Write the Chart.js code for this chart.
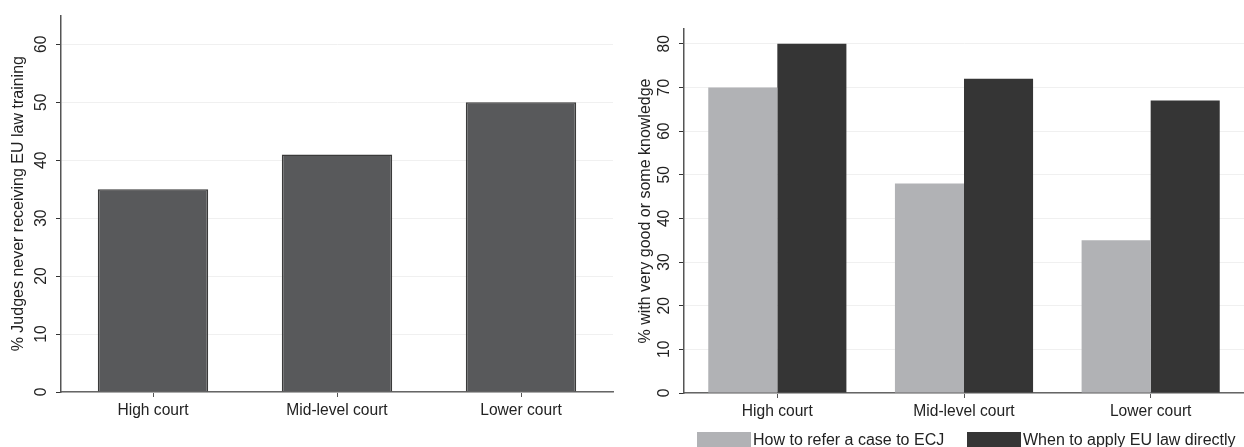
<!DOCTYPE html>
<html>
<head>
<meta charset="utf-8">
<script src="https://cdn.jsdelivr.net/npm/chart.js@4"></script>
<style>
    body { margin: 0; background: #fff; }
    #wrap { position: relative; width: 1244px; height: 447px; overflow: hidden; }
    #left { position: absolute; left: 0; top: 0; }
    #right { position: absolute; left: 622px; top: 0; }
    #legend { position: absolute; top: 431px; left: 0; font: 16px "Liberation Sans", Arial, sans-serif; color: #222; }
    .item { position: absolute; top: 0; white-space: nowrap; line-height: 18px; }
    .box { display: inline-block; width: 54px; height: 15px; vertical-align: -2px; margin-right: 2px; }
</style>
</head>
<body>
<div id="wrap">
    <canvas id="left" width="622" height="447"></canvas>
    <canvas id="right" width="622" height="447"></canvas>
    <div id="legend"></div>
</div>
<script>
const categories = ["High court", "Mid-level court", "Lower court"];
const noTraining = [35, 41, 50];
const referCase = [70, 48, 35];
const applyDirectly = [80, 72, 67];
const leftTicks = [0, 10, 20, 30, 40, 50, 60];
const rightTicks = [0, 10, 20, 30, 40, 50, 60, 70, 80];

const seriesNames = ["How to refer a case to ECJ", "When to apply EU law directly"];
const seriesColors = ["#b1b2b5", "#353535"];

Chart.defaults.font.family = '"Liberation Sans", Arial, sans-serif';
Chart.defaults.font.size = 15.6;
Chart.defaults.color = "#222";
Chart.defaults.animation = false;

// y axis shared bits (Stata-like: vertical numbers, light grid)
function yAxis(max, ticks, title, width, titlePad) {
    return {
        min: 0,
        max: max,
        afterFit: s => { s.width = width; },
        afterBuildTicks: s => { s.ticks = ticks.map(v => ({ value: v })); },
        ticks: { minRotation: 90, maxRotation: 90, crossAlign: "center", padding: 6, color: "#222" },
        grid: { color: "#f0f0f0", tickColor: "#333", tickLength: 5 },
        border: { color: "#555", width: 1.5 },
        title: { display: true, text: title, color: "#222", font: { size: 16 }, padding: { top: titlePad, bottom: 0 } }
    };
}

function xAxis(height) {
    return {
        afterFit: s => { s.height = height; },
        ticks: { padding: 4, color: "#222" },
        grid: { drawOnChartArea: false, offset: false, tickColor: "#555", tickLength: 5 },
        border: { color: "#666", width: 1.5 }
    };
}

// Left chart
new Chart(document.getElementById("left").getContext("2d"), {
    type: "bar",
    data: {
        labels: categories,
        datasets: [{
            data: noTraining,
            backgroundColor: "#58595b",
            borderColor: "#3a3a3a",
            borderWidth: 1.5,
            barPercentage: 0.6,
            categoryPercentage: 1
        }]
    },
    options: {
        responsive: false,
        layout: { padding: { top: 15, right: 9, left: 0, bottom: 0 } },
        plugins: { legend: { display: false }, tooltip: { enabled: false } },
        scales: {
            x: xAxis(55),
            y: yAxis(65, leftTicks, "% Judges never receiving EU law training", 61, 9)
        }
    }
});

// Right chart
new Chart(document.getElementById("right").getContext("2d"), {
    type: "bar",
    data: {
        labels: categories,
        datasets: [
            { label: seriesNames[0], data: referCase, backgroundColor: seriesColors[0], barPercentage: 1, categoryPercentage: 0.74 },
            { label: seriesNames[1], data: applyDirectly, backgroundColor: seriesColors[1], barPercentage: 1, categoryPercentage: 0.74 }
        ]
    },
    options: {
        responsive: false,
        layout: { padding: { top: 29, right: 0, left: 0, bottom: 0 } },
        plugins: { legend: { display: false }, tooltip: { enabled: false } },
        scales: {
            x: xAxis(54),
            y: yAxis(83.4, rightTicks, "% with very good or some knowledge", 62, 14)
        }
    }
});

// Legend
const legend = document.getElementById("legend");
const legendX = [697, 967];
seriesNames.forEach((name, i) => {
    legend.innerHTML += `<div class="item" style="left:${legendX[i]}px"><span class="box" style="background:${seriesColors[i]}"></span>${name}</div>`;
});
</script>
</body>
</html>
